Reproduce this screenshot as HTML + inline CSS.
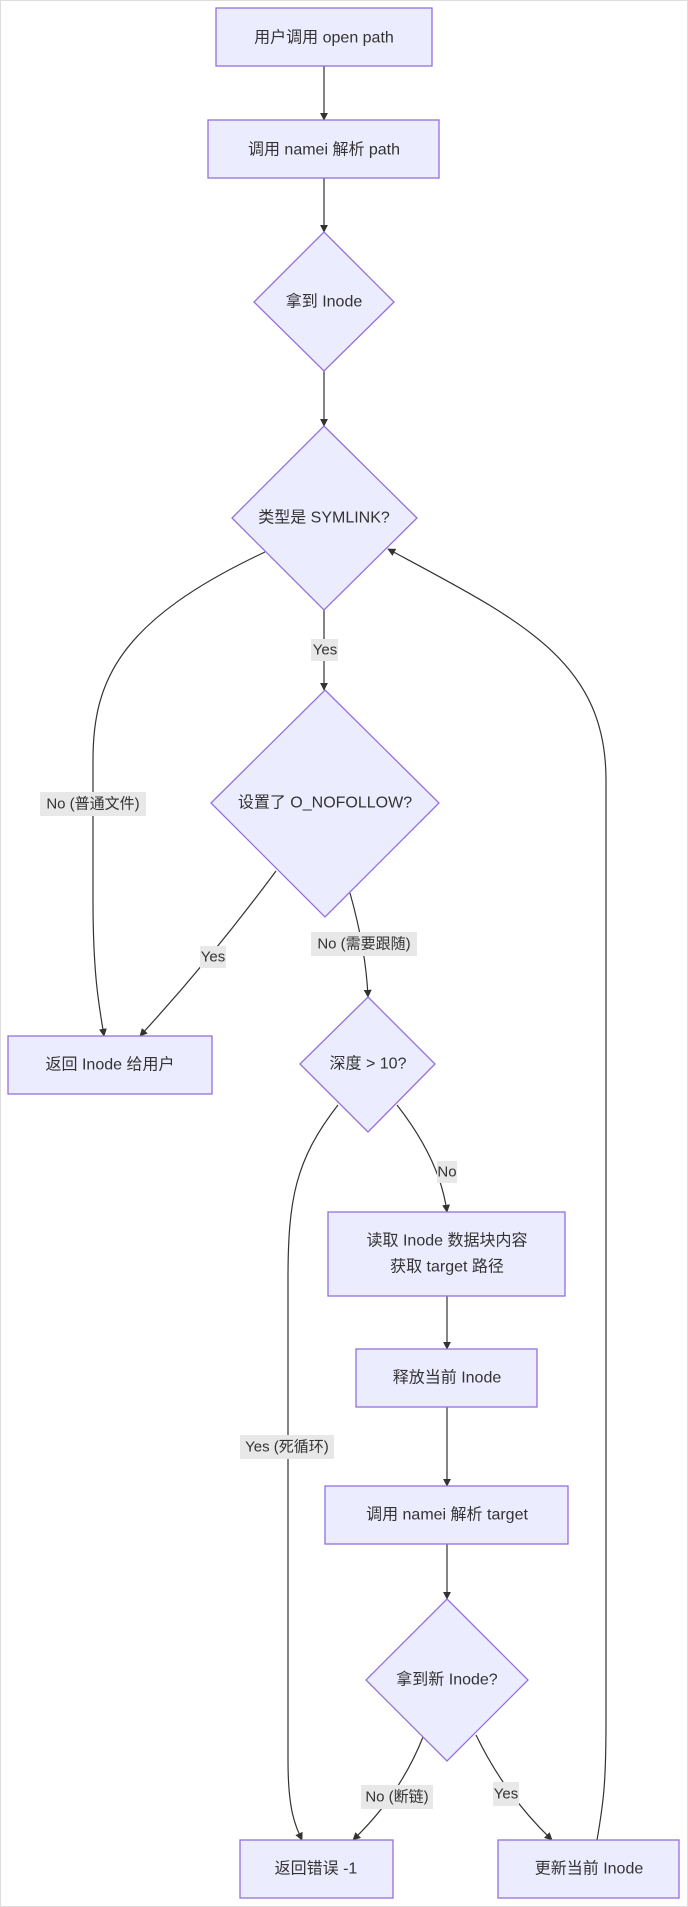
<!DOCTYPE html>
<html><head><meta charset="utf-8"><style>
html,body{margin:0;padding:0;background:#fff;}
svg{display:block;}
text{font-family:"Liberation Sans","Noto Sans CJK SC",sans-serif;fill:#333;font-size:16px;text-anchor:middle;dominant-baseline:central;}
.n{fill:#ECECFF;stroke:#9370DB;stroke-width:1.3;}
.e{fill:none;stroke:#333;stroke-width:1.2;}
.lb{fill:#e8e8e8;}
.l{font-size:15px;}
</style></head><body>
<svg width="688" height="1907" viewBox="0 0 688 1907" xmlns="http://www.w3.org/2000/svg">
<defs><marker id="a" viewBox="0 0 10 10" refX="9" refY="5" markerWidth="8" markerHeight="8" orient="auto-start-reverse" markerUnits="userSpaceOnUse"><path d="M0,0 L10,5 L0,10 z" fill="#333"/></marker></defs>
<rect x="0.5" y="0.5" width="687" height="1906" fill="none" stroke="#ddd"/>
<!-- edges -->
<path class="e" d="M324,66 L324,120" marker-end="url(#a)"/>
<path class="e" d="M324,178 L324,232" marker-end="url(#a)"/>
<path class="e" d="M324,371 L324,426" marker-end="url(#a)"/>
<path class="e" d="M324,610 L324,690" marker-end="url(#a)"/>
<path class="e" d="M265,552 C120,620 93,680 93,760 L93,900 C93,980 100,1010 104,1036" marker-end="url(#a)"/>
<path class="e" d="M276,871 Q210,960 140,1036" marker-end="url(#a)"/>
<path class="e" d="M350,893 Q366,950 368,997" marker-end="url(#a)"/>
<path class="e" d="M397,1105 Q440,1160 447,1212" marker-end="url(#a)"/>
<path class="e" d="M338,1105 C295,1160 288,1200 288,1280 L288,1760 C288,1810 295,1825 302,1840" marker-end="url(#a)"/>
<path class="e" d="M447,1296 L447,1349" marker-end="url(#a)"/>
<path class="e" d="M447,1407 L447,1486" marker-end="url(#a)"/>
<path class="e" d="M447,1544 L447,1599" marker-end="url(#a)"/>
<path class="e" d="M423,1737 Q400,1795 353,1840" marker-end="url(#a)"/>
<path class="e" d="M476,1735 Q505,1795 552,1840" marker-end="url(#a)"/>
<path class="e" d="M597,1840 C604,1800 606,1780 606,1720 L606,780 C606,660 520,620 388,549" marker-end="url(#a)"/>
<!-- edge labels -->
<rect class="lb" x="311" y="639" width="27" height="22"/><text class="l" x="325" y="650">Yes</text>
<rect class="lb" x="40" y="792" width="106" height="24"/><text class="l" x="93" y="804">No (普通文件)</text>
<rect class="lb" x="200" y="946" width="26" height="22"/><text class="l" x="213" y="957">Yes</text>
<rect class="lb" x="311" y="932" width="106" height="24"/><text class="l" x="364" y="944">No (需要跟随)</text>
<rect class="lb" x="437" y="1161" width="20" height="22"/><text class="l" x="447" y="1172">No</text>
<rect class="lb" x="240" y="1435" width="94" height="24"/><text class="l" x="287" y="1447">Yes (死循环)</text>
<rect class="lb" x="361" y="1785" width="72" height="24"/><text class="l" x="397" y="1797">No (断链)</text>
<rect class="lb" x="493" y="1782" width="26" height="24"/><text class="l" x="506" y="1794">Yes</text>
<!-- nodes -->
<rect class="n" x="216" y="8" width="216" height="58"/><text x="324" y="38">用户调用 open path</text>
<rect class="n" x="208" y="120" width="231" height="58"/><text x="324" y="150">调用 namei 解析 path</text>
<polygon class="n" points="324,232 394,302 324,371 254,302"/><text x="324" y="302">拿到 Inode</text>
<polygon class="n" points="324,426 417,518 324,610 232,518"/><text x="324" y="518">类型是 SYMLINK?</text>
<polygon class="n" points="325,690 439,803 325,917 211,803"/><text x="325" y="803">设置了 O_NOFOLLOW?</text>
<rect class="n" x="8" y="1036" width="204" height="58"/><text x="110" y="1065">返回 Inode 给用户</text>
<polygon class="n" points="368,997 435,1064 368,1132 300,1064"/><text x="368" y="1064">深度 &gt; 10?</text>
<rect class="n" x="328" y="1212" width="237" height="84"/><text x="447" y="1241">读取 Inode 数据块内容</text><text x="447" y="1267">获取 target 路径</text>
<rect class="n" x="356" y="1349" width="181" height="58"/><text x="447" y="1378">释放当前 Inode</text>
<rect class="n" x="325" y="1486" width="243" height="58"/><text x="447" y="1515">调用 namei 解析 target</text>
<polygon class="n" points="447,1599 528,1680 447,1761 366,1680"/><text x="447" y="1680">拿到新 Inode?</text>
<rect class="n" x="240" y="1840" width="153" height="58"/><text x="316" y="1869">返回错误 -1</text>
<rect class="n" x="498" y="1840" width="181" height="58"/><text x="589" y="1869">更新当前 Inode</text>
</svg>
</body></html>
